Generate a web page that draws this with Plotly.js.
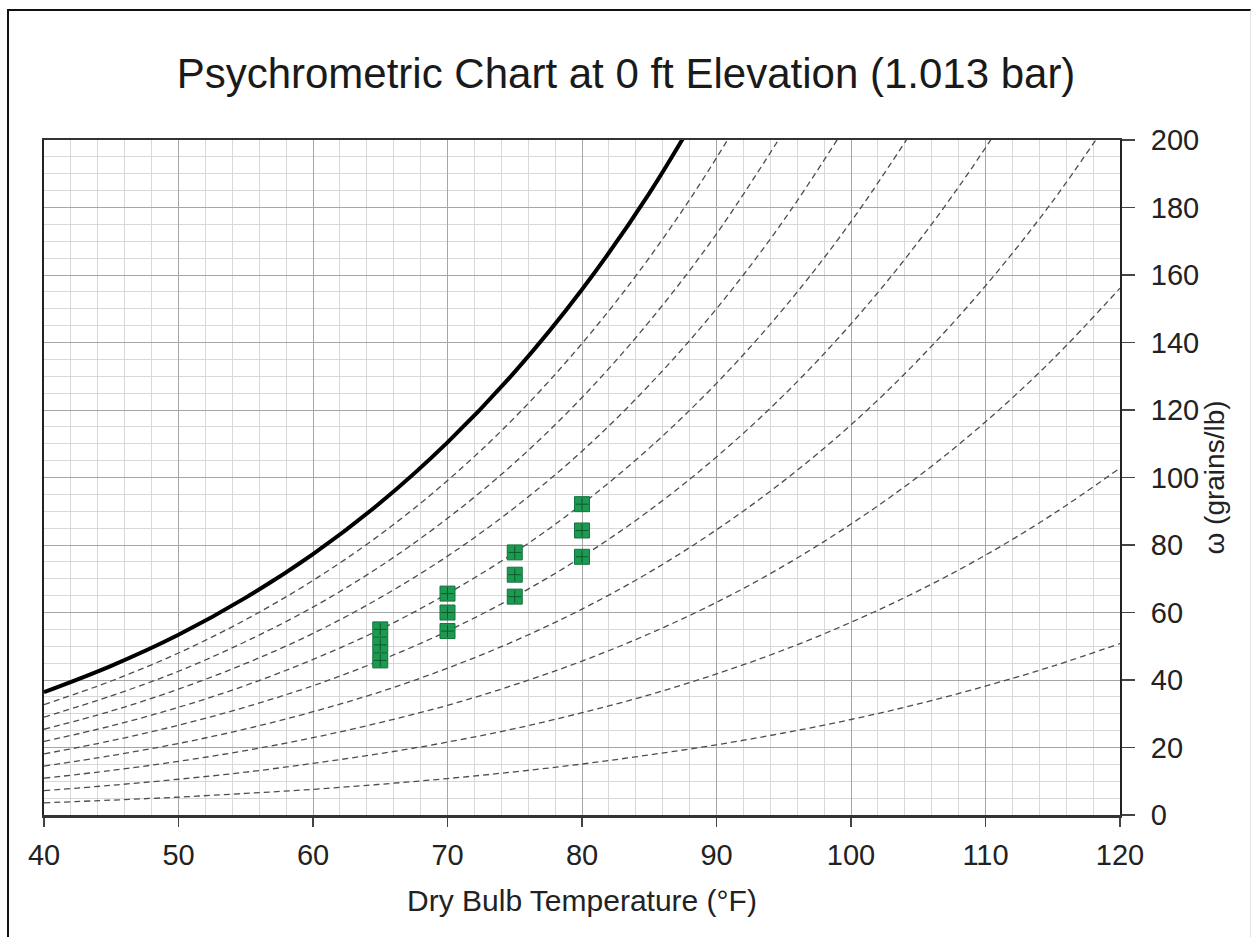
<!DOCTYPE html>
<html>
<head>
<meta charset="utf-8">
<script src="https://cdn.plot.ly/plotly-3.0.1.min.js"></script>
<style>
  html, body { margin: 0; padding: 0; background: #fff; }
  #chart { width: 1252px; height: 937px; position: relative; }
  #frame { position: absolute; left: 7px; top: 9px; width: 1241px; height: 940px;
           border-left: 2px solid #111; border-top: 2px solid #111; border-right: 1px solid #e2e2e2;
           pointer-events: none; }
</style>
</head>
<body>
<div id="chart"></div>
<div id="frame"></div>
<script>
// Dry bulb temperatures (°F)
const temps = [40,45,50,55,60,65,70,75,80,85,90,95,100,105,110,115,120];

// Humidity ratio (grains/lb)
const rh100 = [36.4,44.2,53.4,64.4,77.3,92.5,110.4,131.3,155.7,184.2,217.5];
const rh90  = [32.7,39.7,48.0,57.9,69.5,83.1,99.1,117.8,139.7,165.1,194.7,229.1];
const rh80  = [29.0,35.3,42.6,51.4,61.6,73.7,87.9,104.4,123.7,146.2,172.2,202.5];
const rh70  = [25.4,30.8,37.3,44.9,53.8,64.4,76.7,91.1,107.8,127.4,150.0,176.2,206.5];
const rh60  = [21.8,26.4,31.9,38.4,46.1,55.0,65.6,77.8,92.1,108.7,127.9,150.1,175.8,205.4];
const rh50  = [18.1,22.0,26.6,32.0,38.3,45.8,54.5,64.7,76.5,90.2,106.1,124.4,145.5,169.8,197.7,229.8];
const rh40  = [14.5,17.6,21.2,25.5,30.6,36.5,43.5,51.6,61.0,71.9,84.5,99.0,115.6,134.8,156.8,181.9,210.6];
const rh30  = [10.9,13.2,15.9,19.1,22.9,27.4,32.5,38.6,45.6,53.7,63.0,73.8,86.2,100.3,116.5,135.0,156.1];
const rh20  = [7.2,8.8,10.6,12.7,15.3,18.2,21.6,25.6,30.3,35.6,41.8,48.9,57.1,66.4,77.0,89.1,102.8];
const rh10  = [3.6,4.4,5.3,6.4,7.6,9.1,10.8,12.8,15.1,17.8,20.8,24.3,28.3,32.9,38.2,44.1,50.8];

// Comfort points (green squares)
const ptTemp  = [65,65,65,70,70,70,75,75,75,80,80,80];
const ptOmega = [45.8,50.4,55.0,54.5,60.0,65.6,64.7,71.2,77.8,76.5,84.3,92.1];

const dashedCurves = [rh90, rh80, rh70, rh60, rh50, rh40, rh30, rh20, rh10];
const dashedNames  = ['90% RH','80% RH','70% RH','60% RH','50% RH','40% RH','30% RH','20% RH','10% RH'];

const traces = [];
dashedCurves.forEach((vals, i) => {
  traces.push({
    x: temps.slice(0, vals.length), y: vals, name: dashedNames[i],
    type: 'scatter', mode: 'lines',
    line: { color: '#4d4d4d', width: 1.3, dash: '6px,4px', shape: 'spline' },
    hoverinfo: 'skip'
  });
});
traces.push({
  x: temps.slice(0, rh100.length), y: rh100, name: 'Saturation',
  type: 'scatter', mode: 'lines',
  line: { color: '#000000', width: 4, shape: 'spline' }
});
traces.push({
  x: ptTemp, y: ptOmega, name: 'Points', type: 'scatter', mode: 'markers',
  marker: { symbol: 'square', size: 15, color: '#1c9a52', line: { color: '#14703e', width: 1 } }
});
traces.push({
  x: ptTemp, y: ptOmega, name: 'Points cross', type: 'scatter', mode: 'markers',
  marker: { symbol: 'cross-thin', size: 9, line: { color: '#0c5a2c', width: 1 } },
  hoverinfo: 'skip'
});

const font = 'Arial, "Liberation Sans", sans-serif';
const layout = {
  width: 1252, height: 937,
  margin: { l: 44, r: 132, t: 140, b: 122 },
  paper_bgcolor: '#ffffff', plot_bgcolor: '#ffffff',
  showlegend: false,
  font: { family: font, color: '#222222' },
  title: {
    text: 'Psychrometric Chart at 0 ft Elevation (1.013 bar)',
    font: { family: font, size: 42, color: '#1a1a1a' },
    x: 0.5, xref: 'container', xanchor: 'center',
    y: 0.922, yref: 'container', yanchor: 'middle'
  },
  xaxis: {
    range: [40, 120], tick0: 40, dtick: 10,
    ticks: 'outside', ticklen: 9, tickwidth: 1.5, tickcolor: '#444',
    ticklabelstandoff: 4,
    tickfont: { family: font, size: 29, color: '#222' },
    showline: true, linecolor: '#333', linewidth: 2.5, mirror: true,
    showgrid: true, gridcolor: '#a6a6a6', gridwidth: 1,
    minor: { dtick: 2, showgrid: true, gridcolor: '#d8d8d8', gridwidth: 1 },
    zeroline: false,
    title: { text: 'Dry Bulb Temperature (°F)', font: { family: font, size: 30, color: '#222' }, standoff: 20 }
  },
  yaxis: {
    side: 'right', range: [0, 200], tick0: 0, dtick: 20,
    ticks: 'outside', ticklen: 13, tickwidth: 1.5, tickcolor: '#444',
    ticklabelstandoff: 10,
    tickfont: { family: font, size: 29, color: '#222' },
    showline: true, linecolor: '#222', linewidth: 2, mirror: true,
    showgrid: true, gridcolor: '#a6a6a6', gridwidth: 1,
    minor: { dtick: 5, showgrid: true, gridcolor: '#d8d8d8', gridwidth: 1 },
    zeroline: false,
    title: { text: 'ω (grains/lb)', font: { family: font, size: 28, color: '#222' }, standoff: 6 }
  }
};

Plotly.newPlot('chart', traces, layout, { displayModeBar: false, staticPlot: true });
</script>
</body>
</html>
